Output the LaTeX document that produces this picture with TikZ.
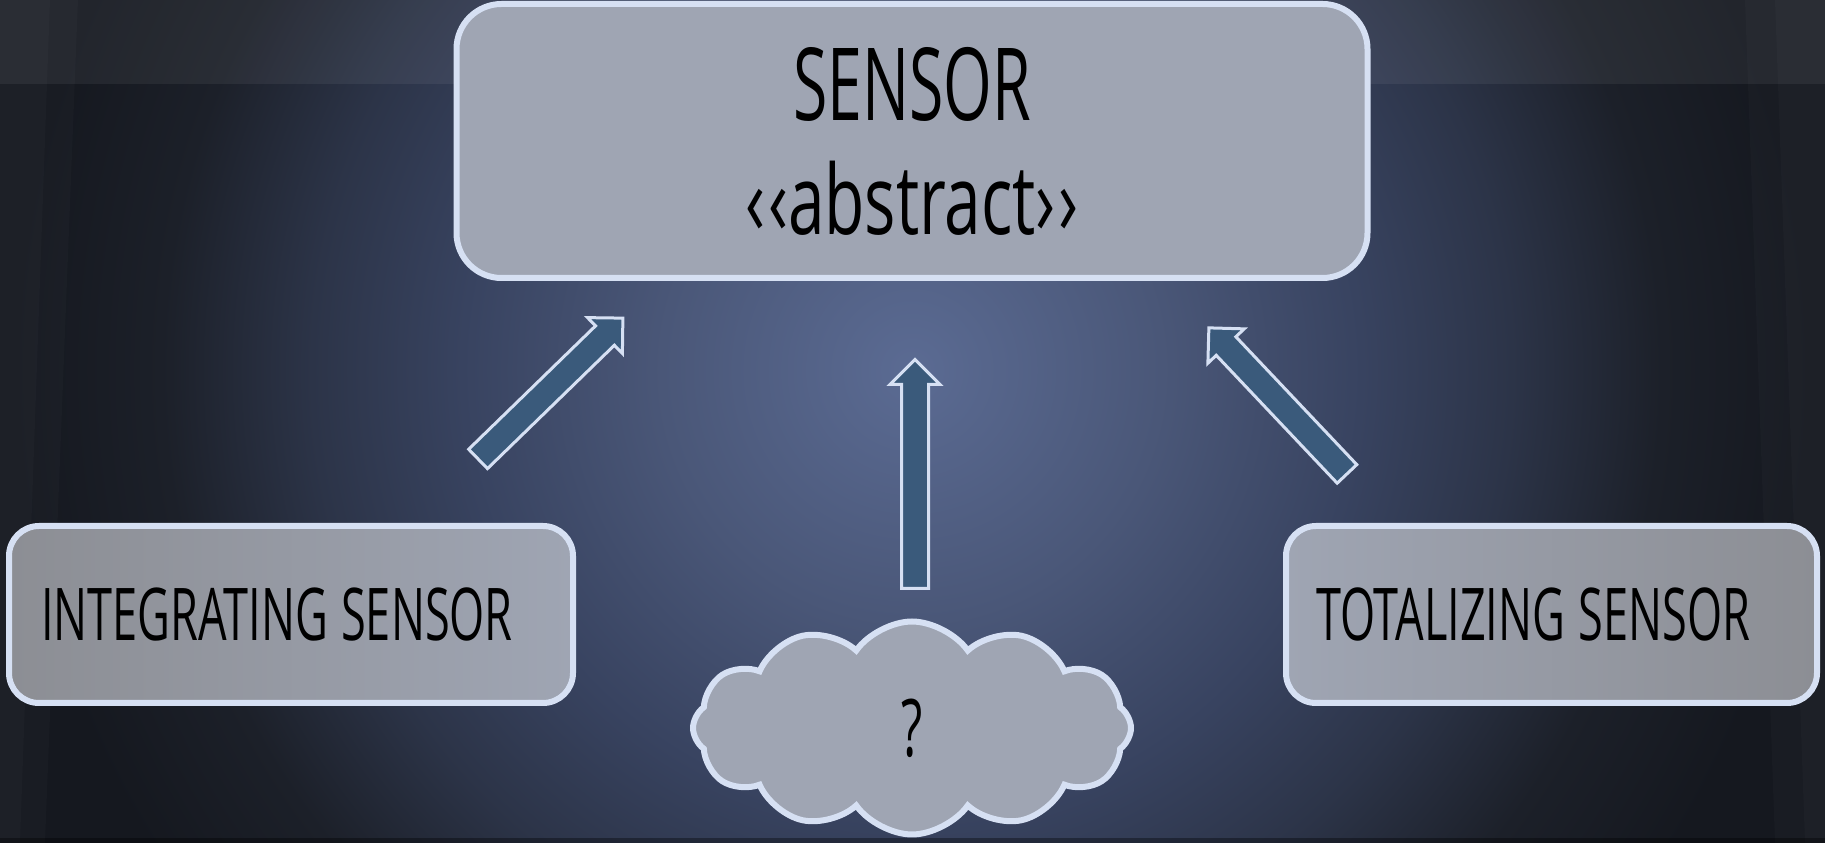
\documentclass[tikz,border=0pt]{standalone}
\usepackage{fontspec}
\setmainfont{Open Sans}[FakeStretch=0.62]
\usepackage{tikz}
\usetikzlibrary{shapes.symbols,shapes.arrows}

\definecolor{bgcentre}{HTML}{5B6B93}
\definecolor{bgmid}{HTML}{4A5778}
\definecolor{bgouter}{HTML}{384360}
\definecolor{bgdusk}{HTML}{2C3448}
\definecolor{bgdark}{HTML}{1C2029}
\definecolor{bgedge}{HTML}{15181F}
\definecolor{rimblue}{HTML}{D6E0F3}
\definecolor{boxgray}{HTML}{9FA5B3}
\definecolor{boxdark}{HTML}{8C8E94}
\definecolor{arrowblue}{HTML}{3A5A7B}

\pgfdeclareradialshading{stageglow}{\pgfpoint{0bp}{0bp}}{%
  color(0bp)=(bgcentre); color(6.25bp)=(bgmid); color(11.25bp)=(bgouter);
  color(15bp)=(bgdusk); color(18.75bp)=(bgdark); color(22.5bp)=(bgedge); color(50bp)=(bgedge)}

\newcommand{\tightwords}{\spaceskip=0.18em\relax}

\tikzset{
  classbox/.style = {draw=rimblue, line width=0.6mm, fill=boxgray, rounded corners=4.5mm, text=black},
  subbox/.style = {classbox, rounded corners=3mm, minimum height=17.7mm, align=left,
    font=\fontsize{20.7}{24}\selectfont},
  blockarrow/.style = {single arrow, draw=rimblue, line width=0.3mm, fill=arrowblue,
    inner xsep=0pt, inner ysep=1.2mm, single arrow head extend=1.15mm,
    single arrow tip angle=90, anchor=tail}
}

\begin{document}
\begin{tikzpicture}[x=0.1mm, y=-0.1mm]
	\useasboundingbox (0,0) rectangle (1825,843);
	% backdrop
	\fill[bgedge] (0,0) rectangle (1825,843);
	\begin{scope}
		\clip (0,0) rectangle (1825,843);
		\shade[shading=stageglow] (912,370) circle (100mm);
	\end{scope}
	\fill[white, opacity=0.06] (0,0) rectangle (1825,84);
	\fill[white, opacity=0.02] (0,0) -- (78,0) -- (45,843) -- (0,843) -- cycle;
	\fill[white, opacity=0.02] (0,0) -- (50,0) -- (20,843) -- (0,843) -- cycle;
	\fill[white, opacity=0.02] (1825,0) -- (1745,0) -- (1775,843) -- (1825,843) -- cycle;
	\fill[white, opacity=0.02] (1825,0) -- (1775,0) -- (1805,843) -- (1825,843) -- cycle;
	\fill[black, opacity=0.35] (0,838) rectangle (1825,843);

	% classes
	\node[classbox, minimum width=91.1mm, minimum height=27.4mm, align=center,
		font=\fontsize{28.7}{32.4}\selectfont] (sensor) at (912,141)
		{SENSOR\\{\fontsize{27.5}{32.4}\selectfont\addfontfeatures{FakeStretch=0.68}%
		‹\kern0.03em‹abstract›\kern0.03em›}};
	\node[subbox, left color=boxdark, right color=boxgray, minimum width=56.4mm, text width=50mm]
		(integrating) at (291,614.5) {\tightwords INTEGRATING SENSOR};
	\node[subbox, left color=boxgray, right color=boxdark, minimum width=53.1mm, text width=47.1mm]
		(totalizing) at (1551.5,614.5) {\tightwords TOTALIZING SENSOR};
	\node[cloud, cloud puffs=12, cloud puff arc=110, aspect=2.05, draw=rimblue, line width=0.6mm,
		fill=boxgray, minimum width=43.8mm, minimum height=21.3mm,
		font=\fontsize{22.6}{24}\selectfont] (unknown) at (912,728) {?};

	% inheritance arrows
	\node[blockarrow, minimum height=20.2mm, rotate=44.2] (upint) at (477,460) {};
	\node[blockarrow, minimum height=22.9mm, rotate=90] (upunk) at (915,590) {};
	\node[blockarrow, minimum height=20.1mm, rotate=133.4] (uptot) at (1348,475) {};
\end{tikzpicture}
\end{document}
